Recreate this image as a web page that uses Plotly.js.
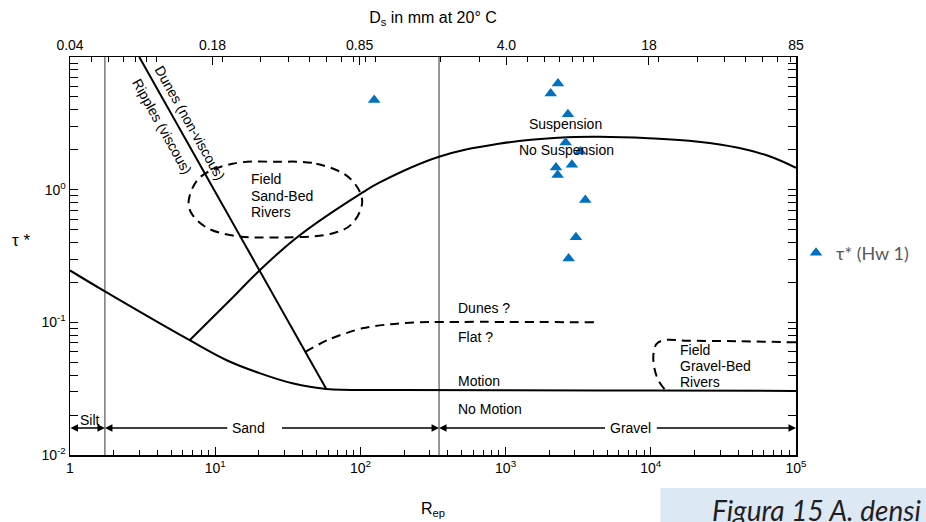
<!DOCTYPE html>
<html>
<head>
<meta charset="utf-8">
<script src="https://cdn.plot.ly/plotly-3.0.1.min.js"></script>
<style>
  html, body { margin: 0; padding: 0; background: #fff; }
  #chart { width: 926px; height: 522px; }
</style>
</head>
<body>
<div id="chart"></div>
<script>
// Bedform / sediment-motion regime diagram: tau* versus particle Reynolds number Rep

// Threshold of motion (Shields-type curve)
const shieldsRep = [1, 1.74, 6.67, 12.0, 20.2, 34.0, 58.2, 185, 1000, 10000, 100000];
const shieldsTau = [0.246, 0.171, 0.0733, 0.0518, 0.0414, 0.0347, 0.0314, 0.0309, 0.0308, 0.0306, 0.0304];

// Threshold of suspension
const suspRep = [6.67, 13.2, 20.2, 38.0, 103, 135, 348, 898, 2320, 4370, 9630, 21200, 40000, 64200, 100000];
const suspTau = [0.0733, 0.154, 0.246, 0.451, 0.949, 1.13, 1.77, 2.22, 2.46, 2.50, 2.44, 2.30, 2.07, 1.80, 1.46];

// Ripples (viscous) / dunes (non-viscous) boundary
const rippleRep = [3.0, 58.2];
const rippleTau = [10, 0.0314];

// Dunes ? / Flat ? boundary (dashed)
const flatRep = [41.8, 61.0, 103, 158, 254, 4370];
const flatTau = [0.060, 0.0745, 0.0901, 0.0966, 0.100, 0.100];

// Field sand-bed rivers region (dashed closed outline)
const sandFieldRep = [26.4, 49.7, 83.8, 102.9, 87.8, 64.0, 22.5, 13.17, 8.73, 6.88, 6.57, 7.81, 13.17, 26.4];
const sandFieldTau = [1.624, 1.569, 1.231, 0.827, 0.555, 0.467, 0.436, 0.451, 0.518, 0.660, 0.827, 1.231, 1.569, 1.624];

// Field gravel-bed rivers region (dashed open outline)
const gravelFieldRep = [100000, 40000, 18120, 12210, 10920, 10420, 10590, 11270, 12600];
const gravelFieldTau = [0.0707, 0.0720, 0.0727, 0.0732, 0.0684, 0.0565, 0.0451, 0.0366, 0.0308];

// Grain-size class boundaries (silt/sand, sand/gravel) and range ends
const classBoundRep = [1.74, 348];
const rangeEndsRep = [1, 100000];
const classArrowTau = 0.0160;

// Homework 1 points
const hwRep = [2294, 2044, 2687, 2591, 3269, 2862, 2223, 2283, 3538, 3050, 2717, 124.4];
const hwTau = [6.30, 5.30, 3.71, 2.27, 1.94, 1.54, 1.47, 1.29, 0.837, 0.438, 0.303, 4.75];

// Axis ticks
const repTickVals = [1, 10, 100, 1000, 10000, 100000];
const repTickText = ['1', '10<sup>1</sup>', '10<sup>2</sup>', '10<sup>3</sup>', '10<sup>4</sup>', '10<sup>5</sup>'];
const tauTickVals = [0.01, 0.1, 1];
const tauTickText = ['10<sup>-2</sup>', '10<sup>-1</sup>', '10<sup>0</sup>'];
const dsTickVals = [0.04, 0.18, 0.85, 4.0, 18, 85];
const dsTickText = ['0.04', '0.18', '0.85', '4.0', '18', '85'];

function logMinor(fromExp, toExp) {
  const out = [];
  for (let e = fromExp; e < toExp; e++) {
    for (let k = 2; k <= 9; k++) out.push(k * Math.pow(10, e));
  }
  return out;
}
const repMinor = logMinor(0, 5);
const tauMinor = logMinor(-2, 1).concat([10]);
const dsMinor = logMinor(-2, 2).filter(v => v > 0.04 && v < 85).concat([0.1, 1, 10]);

const black = '#000000';
const lx = Math.log10;

const curve = (x, y, extra) => Object.assign({
  x: x, y: y, type: 'scatter', mode: 'lines',
  line: { color: black, width: 2 },
  hoverinfo: 'skip', showlegend: false
}, extra || {});

const traces = [
  // Ds (mm) reference axis on top
  { x: [], y: [], xaxis: 'x2', yaxis: 'y', type: 'scatter', showlegend: false, hoverinfo: 'skip' },
  curve([classBoundRep[0], classBoundRep[0]], [0.01, 10], { line: { color: '#333', width: 1 } }),
  curve([classBoundRep[1], classBoundRep[1]], [0.01, 10], { line: { color: '#333', width: 1 } }),
  curve(shieldsRep, shieldsTau, { line: { color: black, width: 2, shape: 'spline', smoothing: 1 } }),
  curve(suspRep, suspTau, { line: { color: black, width: 2, shape: 'spline', smoothing: 1.2 } }),
  curve(rippleRep, rippleTau),
  curve(flatRep, flatTau, { line: { color: black, width: 2, dash: '9px,6px', shape: 'spline', smoothing: 0.8 } }),
  curve(sandFieldRep, sandFieldTau, { line: { color: black, width: 2, dash: '9px,6px', shape: 'spline', smoothing: 1 } }),
  curve(gravelFieldRep, gravelFieldTau, { line: { color: black, width: 2, dash: '9px,6px', shape: 'spline', smoothing: 1 } }),
  {
    x: hwRep, y: hwTau, type: 'scatter', mode: 'markers', name: 'τ* (Hw 1)',
    marker: { symbol: 'triangle-up', size: 11, color: '#0070C0' },
    showlegend: true
  }
];

const txt = (text, x, y, opts) => Object.assign({
  text: text, x: lx(x), y: lx(y), xref: 'x', yref: 'y',
  showarrow: false, font: { size: 14, color: black }
}, opts || {});

// class-range arrow from tail to head (both ends when asked)
const arrow = (xTail, xHead, both) => ({
  text: '', x: lx(xHead), y: lx(classArrowTau), ax: lx(xTail), ay: lx(classArrowTau),
  xref: 'x', yref: 'y', axref: 'x', ayref: 'y',
  showarrow: true, arrowhead: 2, arrowsize: 1, arrowwidth: 1.5, arrowcolor: black,
  arrowside: both ? 'end+start' : 'end', standoff: 0, startstandoff: 0,
  font: { size: 1 }, borderpad: 0
});

const annotations = [
  txt('Suspension', 2576, 3.12),
  txt('No Suspension', 2646, 1.99),
  txt('Dunes ?', 453, 0.129, { xanchor: 'left' }),
  txt('Flat ?', 453, 0.0776, { xanchor: 'left' }),
  txt('Motion', 453, 0.0360, { xanchor: 'left' }),
  txt('No Motion', 453, 0.0224, { xanchor: 'left' }),
  txt('Field', 17.2, 1.21, { xanchor: 'left' }),
  txt('Sand-Bed', 17.2, 0.902, { xanchor: 'left' }),
  txt('Rivers', 17.2, 0.675, { xanchor: 'left' }),
  txt('Field', 15500, 0.0616, { xanchor: 'left' }),
  txt('Gravel-Bed', 15500, 0.0467, { xanchor: 'left' }),
  txt('Rivers', 15500, 0.0356, { xanchor: 'left' }),
  txt('Dunes (non-viscous)', 6.72, 3.19, { textangle: 60.8 }),
  txt('Ripples (viscous)', 4.35, 2.99, { textangle: 60.8 }),
  txt('Silt', 1.37, 0.0183),
  txt('Sand', 17.0, classArrowTau),
  txt('Gravel', 7244, classArrowTau),
  arrow(rangeEndsRep[0], classBoundRep[0], true),
  arrow(12.2, classBoundRep[0]),
  arrow(28.6, classBoundRep[1]),
  arrow(4875, classBoundRep[1]),
  arrow(10910, rangeEndsRep[1]),
  // vertical-axis label, written upright
  {
    text: 'τ *', xref: 'paper', yref: 'paper', x: -0.067, y: 0.54,
    xanchor: 'center', yanchor: 'middle', showarrow: false,
    font: { size: 17, color: black }
  },
  // caption strip
  {
    text: '<i>Figura 15 A. densi</i>', xref: 'paper', yref: 'paper',
    x: 0.881, y: -0.09, xanchor: 'left', yanchor: 'top', showarrow: false,
    font: { family: 'Lato, Carlito, "Open Sans", sans-serif', size: 28, color: '#1f1f1f' }
  }
];

const axisCommon = {
  type: 'log', showgrid: false, zeroline: false,
  showline: true, linecolor: black, linewidth: 1.5,
  ticks: 'inside', ticklen: 8, tickwidth: 1, tickcolor: black,
  tickfont: { size: 14, color: black }, tickmode: 'array'
};

const layout = {
  width: 926, height: 522,
  margin: { l: 70, r: 127, t: 57, b: 67, pad: 0 },
  paper_bgcolor: '#ffffff', plot_bgcolor: '#ffffff',
  font: { family: '"Liberation Sans", Arial, Helvetica, sans-serif', size: 14, color: black },
  showlegend: true,
  legend: {
    x: 1.0, xanchor: 'left', y: 0.5075, yanchor: 'middle',
    bgcolor: 'rgba(0,0,0,0)', borderwidth: 0,
    font: { family: 'Lato, Carlito, "Open Sans", sans-serif', size: 18, color: '#595959' }
  },
  xaxis: Object.assign({}, axisCommon, {
    range: [0, 5], tickvals: repTickVals, ticktext: repTickText, mirror: true,
    minor: { tickmode: 'array', tickvals: repMinor, ticks: 'inside', ticklen: 5, tickwidth: 1, tickcolor: black, showgrid: false },
    title: { text: 'R<sub>ep</sub>', font: { size: 16 } }
  }),
  xaxis2: Object.assign({}, axisCommon, {
    overlaying: 'x', side: 'top', anchor: 'y',
    range: [lx(0.04), lx(85)], tickvals: dsTickVals, ticktext: dsTickText,
    minor: { tickmode: 'array', tickvals: dsMinor, ticks: 'inside', ticklen: 5, tickwidth: 1, tickcolor: black, showgrid: false },
    title: { text: 'D<sub>s</sub> in mm at 20° C', font: { size: 16 }, standoff: 9 }
  }),
  yaxis: Object.assign({}, axisCommon, {
    range: [-2, 1], tickvals: tauTickVals, ticktext: tauTickText, mirror: 'allticks',
    minor: { tickmode: 'array', tickvals: tauMinor, ticks: 'inside', ticklen: 5, tickwidth: 1, tickcolor: black, showgrid: false }
  }),
  shapes: [
    {
      type: 'rect', xref: 'paper', yref: 'paper', layer: 'below',
      x0: 0.8134, x1: 1.18, y0: -0.18, y1: -0.0829,
      fillcolor: '#dde8f5', line: { width: 0 }
    }
  ],
  annotations: annotations
};

Plotly.newPlot('chart', traces, layout, { displayModeBar: false, staticPlot: true });
</script>
</body>
</html>
